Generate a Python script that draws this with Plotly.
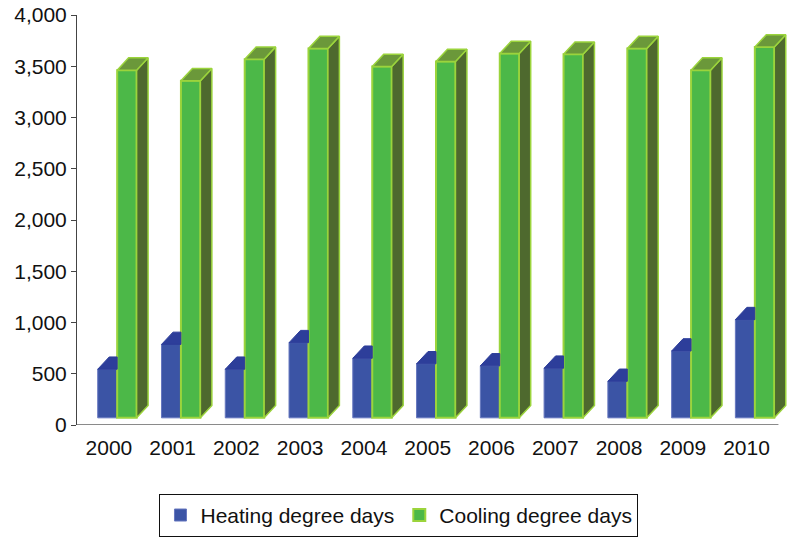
import plotly.graph_objects as go

# Degree days by year
years = ["2000", "2001", "2002", "2003", "2004", "2005",
         "2006", "2007", "2008", "2009", "2010"]
heating = [544, 786, 544, 803, 651, 597, 577, 554, 426, 722, 1028]
cooling = [3462, 3359, 3569, 3672, 3498, 3546, 3624, 3617, 3672, 3462, 3688]

# pseudo-3D styling (category units / value units)
FLOOR = 70          # front faces sit slightly above the axis floor
DX, DY = 0.18, 120  # depth offset of top and side faces
W = 0.305
OFF_H, OFF_C = -0.175, 0.13

BLUE, BLUE_TOP, BLUE_EDGE = "#3b54a5", "#2d3e9a", "#6677bf"
GREEN, GREEN_TOP, GREEN_SIDE, GREEN_EDGE = "#4cb848", "#6b983a", "#4e692e", "#9bd43c"

idx = list(range(len(years)))

fig = go.Figure()

# front faces
fig.add_trace(go.Bar(
    x=idx, y=[v - FLOOR for v in heating], base=FLOOR, width=W, offset=OFF_H,
    name="Heating degree days",
    marker=dict(color=BLUE, line=dict(color=BLUE_EDGE, width=1)),
))
fig.add_trace(go.Bar(
    x=idx, y=[v - FLOOR for v in cooling], base=FLOOR, width=W, offset=OFF_C,
    name="Cooling degree days",
    marker=dict(color=GREEN, line=dict(color=GREEN_EDGE, width=2)),
))


def polys(points_per_bar):
    xs, ys = [], []
    for pts in points_per_bar:
        for px, py in pts:
            xs.append(px)
            ys.append(py)
        xs.append(pts[0][0])
        ys.append(pts[0][1])
        xs.append(None)
        ys.append(None)
    return xs, ys


# heating top faces (the back part is hidden behind the cooling bar)
h_tops = []
for i, v in zip(idx, heating):
    x0, x1 = i + OFF_H, i + OFF_H + W
    h_tops.append([(x0, v), (x1, v), (x1, v + DY), (x0 + DX, v + DY)])
hx, hy = polys(h_tops)
fig.add_trace(go.Scatter(x=hx, y=hy, mode="lines", fill="toself",
                         fillcolor=BLUE_TOP, line=dict(color=BLUE_TOP, width=1),
                         showlegend=False, hoverinfo="skip"))

# cooling side and top faces
c_sides, c_tops = [], []
for i, v in zip(idx, cooling):
    x0, x1 = i + OFF_C, i + OFF_C + W
    c_sides.append([(x1, FLOOR), (x1 + DX, FLOOR + DY), (x1 + DX, v + DY), (x1, v)])
    c_tops.append([(x0, v), (x1, v), (x1 + DX, v + DY), (x0 + DX, v + DY)])
sx, sy = polys(c_sides)
tx, ty = polys(c_tops)
fig.add_trace(go.Scatter(x=sx, y=sy, mode="lines", fill="toself",
                         fillcolor=GREEN_SIDE, line=dict(color=GREEN_EDGE, width=1.5),
                         showlegend=False, hoverinfo="skip"))
fig.add_trace(go.Scatter(x=tx, y=ty, mode="lines", fill="toself",
                         fillcolor=GREEN_TOP, line=dict(color=GREEN_EDGE, width=1.5),
                         showlegend=False, hoverinfo="skip"))

# category axis baseline
fig.add_shape(type="line", xref="x", yref="y", x0=-0.5, x1=len(years) - 0.5,
              y0=0, y1=0, line=dict(color="#8a8a8a", width=2), layer="above")

font = dict(family="Liberation Sans, Arial, sans-serif", color="#111111")

fig.update_layout(
    width=790, height=539,
    margin=dict(l=77, r=2, t=15, b=110),
    paper_bgcolor="white", plot_bgcolor="white",
    barmode="overlay",
    font=dict(**font, size=21),
    showlegend=True,
    legend=dict(
        orientation="h", x=0.116, xanchor="left", y=-0.168, yanchor="top",
        bordercolor="#111111", borderwidth=1, font=dict(**font, size=21),
        traceorder="normal", tracegroupgap=0,
    ),
    xaxis=dict(
        range=[-0.5, 10.65], tickmode="array", tickvals=idx, ticktext=years,
        showgrid=False, zeroline=False, showline=False, ticks="",
        ticklabelstandoff=8, fixedrange=True,
    ),
    yaxis=dict(
        range=[0, 4000], dtick=500, tickformat=",d",
        showgrid=False, zeroline=False, showline=True, linecolor="#444444",
        linewidth=1, ticks="outside", ticklen=5, tickcolor="#444444",
        fixedrange=True,
    ),
)

fig.write_html("out.html")
